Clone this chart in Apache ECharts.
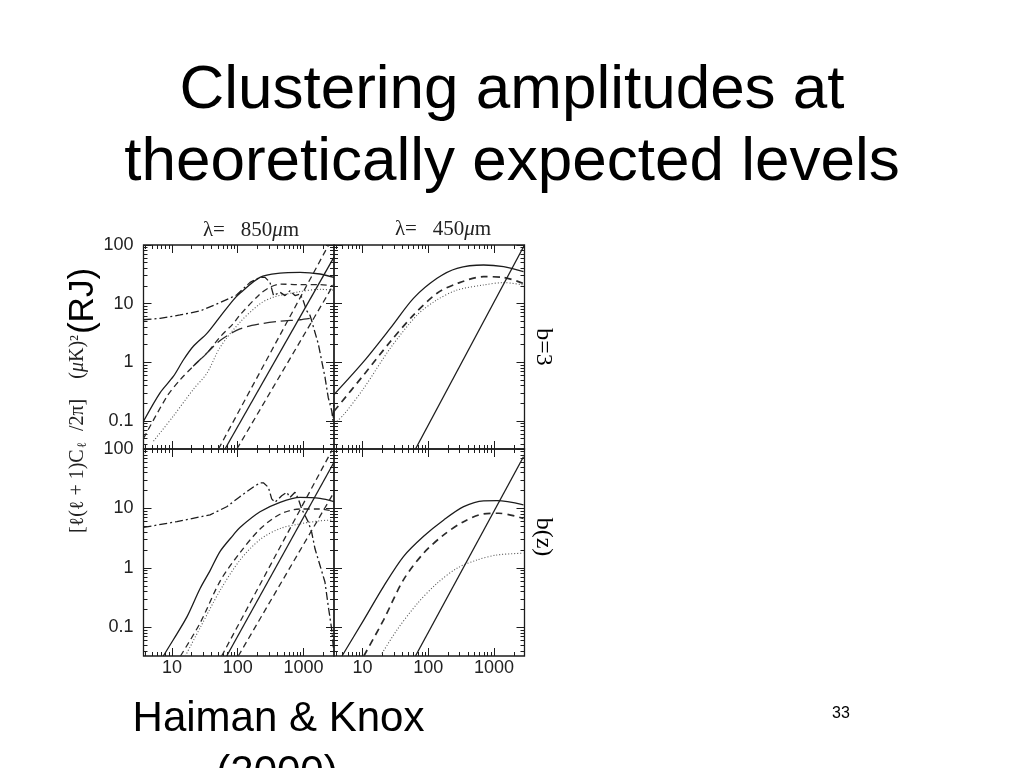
<!DOCTYPE html>
<html>
<head>
<meta charset="utf-8">
<script src="https://cdn.jsdelivr.net/npm/echarts@6.0.0/dist/echarts.min.js"></script>
<style>
  html, body { margin: 0; padding: 0; background: #fff; }
  #chart { width: 1024px; height: 768px; }
</style>
</head>
<body>
<div id="chart"></div>
<script>
  // axis ranges and ticks
  const XMIN = 3.7, XMAX = 2900, YMIN = 0.033, YMAX = 100;
  const xMajor = [10, 100, 1000];
  const xMinor = [4, 5, 6, 7, 8, 9, 20, 30, 40, 50, 60, 70, 80, 90, 200, 300, 400, 500, 600, 700, 800, 900, 2000];
  const yMajor = [0.1, 1, 10, 100];
  const yMinor = [0.04, 0.05, 0.06, 0.07, 0.08, 0.09, 0.2, 0.3, 0.4, 0.5, 0.6, 0.7, 0.8, 0.9,
    2, 3, 4, 5, 6, 7, 8, 9, 20, 30, 40, 50, 60, 70, 80, 90];

  // top left: 850um, b=3   [l, C]
  const tlSolid = [[3.7, 0.098], [6.6, 0.3], [10.5, 0.57], [15, 1.1], [21, 1.85], [34, 3.1], [54, 6.0], [86, 11.6], [108, 15], [218, 28], [439, 33], [883, 34], [1778, 32], [2900, 28]];
  const tlDashed = [[3.7, 0.05], [8.4, 0.26], [13.3, 0.5], [21, 0.85], [34, 1.43], [54, 2.7], [86, 4.6], [108, 6.4], [218, 14.6], [309, 19], [439, 21.5], [883, 21], [1778, 21], [2900, 20]];
  const tlDotted = [[5.25, 0.045], [10.5, 0.12], [21, 0.34], [34, 0.65], [54, 1.8], [108, 4.8], [218, 9.9], [350, 12.9], [883, 16], [1778, 17.5], [2900, 17]];
  const tlLong = [[21, 0.85], [34, 1.43], [54, 2.35], [108, 3.7], [218, 4.5], [439, 5.0], [883, 5.3], [1400, 5.7]];
  const tlDashDot = [[3.7, 5.3], [6.6, 5.6], [13.3, 6.4], [26.8, 7.5], [54, 10.4], [96, 14], [154, 23], [218, 28], [260, 28], [309, 23], [350, 13.7], [439, 15.6], [523, 13.7], [622, 16.6], [741, 13.7], [883, 14.6], [990, 11.2], [1110, 7.6], [1253, 6.3], [1330, 5.1], [1410, 4.0], [1675, 2.05], [1880, 1.07], [2113, 0.56], [2370, 0.25], [2670, 0.15], [2800, 0.1], [2900, 0.2]];
  const tlLineA = [[51, 0.033], [2400, 100]];
  const tlLineS = [[64, 0.033], [2900, 62]];
  const tlLineB = [[97, 0.033], [2900, 21.7]];

  // top right: 450um, b=3
  const trSolid = [[3.7, 0.28], [10.5, 1.03], [26.6, 3.8], [60, 12.4], [136, 27], [274, 40], [693, 45.6], [1396, 42.7], [2800, 35]];
  const trDashed = [[3.7, 0.145], [10.5, 0.61], [26.6, 2.25], [60, 6.4], [136, 15], [274, 22], [693, 28.8], [1396, 28], [2800, 22]];
  const trDotted = [[4.1, 0.098], [5.2, 0.127], [10.5, 0.36], [26.6, 1.74], [68, 6.4], [136, 11.6], [274, 17], [693, 20.8], [1396, 22.8], [2800, 20.8]];
  const trLine = [[64, 0.033], [2900, 100]];

  // bottom left: 850um, b(z)
  const blSolid = [[7.4, 0.033], [10.5, 0.062], [16.9, 0.15], [26.8, 0.45], [38, 0.9], [54, 1.9], [86, 3.6], [108, 4.8], [218, 8.8], [439, 12.7], [883, 15.4], [1778, 14.8], [2900, 13]];
  const blDashed = [[13.5, 0.033], [27, 0.12], [54, 0.6], [108, 1.8], [218, 4.5], [439, 8.0], [883, 9.8], [1778, 9.8], [2900, 9.0]];
  const blDotted = [[16, 0.033], [27, 0.1], [54, 0.42], [108, 1.35], [218, 3.0], [439, 4.6], [883, 5.5], [1778, 6.2], [2900, 6.4]];
  const blDashDot = [[3.7, 4.8], [11.9, 6.0], [38, 7.8], [68, 10.7], [108, 15.8], [173, 23], [218, 27], [245, 27], [292, 22.7], [328, 14.5], [368, 12.7], [465, 16.4], [555, 18.7], [622, 15.3], [741, 18.7], [832, 14.5], [937, 9.8], [1052, 7.6], [1181, 5.9], [1327, 4.0], [1492, 2.1], [1778, 1.1], [2113, 0.58], [2370, 0.23], [2670, 0.094], [2900, 0.035]];
  const blLineA = [[57, 0.033], [2700, 95]];
  const blLineS = [[68, 0.033], [2900, 60]];
  const blLineB = [[102, 0.033], [2900, 18.7]];

  // bottom right: 450um, b(z)
  const brSolid = [[4.9, 0.033], [10.5, 0.134], [21, 0.49], [42, 1.55], [85, 3.4], [172, 6.4], [345, 10.7], [693, 13.4], [1106, 13.5], [2800, 11.5]];
  const brDashed = [[10.5, 0.033], [21, 0.134], [42, 0.63], [85, 1.77], [172, 3.6], [345, 6.0], [693, 8.1], [1180, 8.3], [2800, 6.8]];
  const brDotted = [[18.8, 0.033], [33.6, 0.091], [68, 0.25], [136, 0.55], [274, 0.99], [550, 1.36], [1106, 1.65], [2800, 1.77]];
  const brLine = [[64, 0.033], [2800, 74]];

  const SANS = '"Liberation Sans", Arial, sans-serif';
  const SERIF = '"Liberation Serif", "DejaVu Serif", serif';
  const INK = '#1c1c1c';

  const grids = [
    { left: 143.5, top: 245, width: 190.5, height: 204 },
    { left: 334, top: 245, width: 190.5, height: 204 },
    { left: 143.5, top: 449, width: 190.5, height: 207 },
    { left: 334, top: 449, width: 190.5, height: 207 },
  ].map(g => Object.assign(g, { show: true, borderColor: INK, borderWidth: 1.3, backgroundColor: 'transparent' }));

  const fmt = v => String(+(+v).toPrecision(4));
  const tickLine = { color: INK, width: 1 };

  function axes(g, dir, showLabel) {
    const isX = dir === 'x';
    const base = {
      gridIndex: g, type: 'log', logBase: 10,
      min: isX ? XMIN : YMIN, max: isX ? XMAX : YMAX,
      splitLine: { show: false }, axisLine: { show: false, onZero: false },
    };
    const major = isX ? xMajor : yMajor;
    const minor = isX ? xMinor : yMinor;
    const sides = isX ? ['bottom', 'top'] : ['left', 'right'];
    const out = [];
    sides.forEach((pos, i) => {
      out.push(Object.assign({}, base, {
        position: pos,
        axisTick: { inside: true, length: 8, lineStyle: tickLine, customValues: major },
        axisLabel: {
          show: showLabel && i === 0, customValues: major, formatter: fmt,
          margin: isX ? 3 : 10, fontSize: 18, fontFamily: SANS, color: '#222',
        },
      }));
      out.push(Object.assign({}, base, {
        position: pos,
        axisTick: { inside: true, length: 4, lineStyle: tickLine, customValues: minor },
        axisLabel: { show: false },
      }));
    });
    return out;
  }

  const xAxis = [].concat(axes(0, 'x', false), axes(1, 'x', false), axes(2, 'x', true), axes(3, 'x', true));
  const yAxis = [].concat(axes(0, 'y', true), axes(1, 'y', false), axes(2, 'y', true), axes(3, 'y', false));

  const STY = {
    solid: { type: 'solid', width: 1.3, color: INK },
    dash: { type: [6, 4], width: 1.3, color: '#2a2a2a' },
    bold: { type: [7, 5], width: 1.7, color: '#2a2a2a' },
    dot: { type: [1, 2], width: 1.1, color: '#555' },
    long: { type: [12, 5], width: 1.3, color: '#2a2a2a' },
    dashdot: { type: [8, 3, 2, 3], width: 1.3, color: INK },
  };

  function line(g, data, sty, smooth) {
    return {
      type: 'line', xAxisIndex: g * 4, yAxisIndex: g * 4, data: data,
      showSymbol: false, symbol: 'none', smooth: smooth ? 0.3 : false,
      lineStyle: STY[sty], silent: true, animation: false, clip: true,
    };
  }

  const series = [
    line(0, tlSolid, 'solid', true), line(0, tlDashed, 'dash', true), line(0, tlDotted, 'dot', true),
    line(0, tlLong, 'long', true), line(0, tlDashDot, 'dashdot', false),
    line(0, tlLineA, 'dash'), line(0, tlLineS, 'solid'), line(0, tlLineB, 'dash'),
    line(1, trSolid, 'solid', true), line(1, trDashed, 'bold', true), line(1, trDotted, 'dot', true), line(1, trLine, 'solid'),
    line(2, blSolid, 'solid', true), line(2, blDashed, 'dash', true), line(2, blDotted, 'dot', true),
    line(2, blDashDot, 'dashdot', false),
    line(2, blLineA, 'dash'), line(2, blLineS, 'solid'), line(2, blLineB, 'dash'),
    line(3, brSolid, 'solid', true), line(3, brDashed, 'bold', true), line(3, brDotted, 'dot', true), line(3, brLine, 'solid'),
  ];

  function txt(x, y, text, size, family, extra) {
    return Object.assign({
      type: 'text', x: x, y: y, silent: true,
      style: { text: text, fontSize: size, fontFamily: family, fill: '#000', textAlign: 'center', textVerticalAlign: 'middle' },
    }, extra || {});
  }

  function lambdaTitle(x, y, num) {
    return txt(x, y, '', 21, SERIF, {
      style: {
        text: '{a|λ=   ' + num + '}{i|μ}{a|m}', fill: '#222', textAlign: 'center', textVerticalAlign: 'middle',
        rich: { a: { fontSize: 21, fontFamily: SERIF }, i: { fontSize: 21, fontFamily: SERIF, fontStyle: 'italic' } },
      },
    });
  }

  const graphic = [
    txt(512, 91, 'Clustering amplitudes at', 62, SANS),
    txt(512, 163, 'theoretically expected levels', 62, SANS),
    lambdaTitle(251, 230, '850'),
    lambdaTitle(443, 229, '450'),
    txt(543, 347, 'b=3', 24, SERIF, { rotation: -Math.PI / 2 }),
    txt(543, 537, 'b(z)', 24, SERIF, { rotation: -Math.PI / 2 }),
    txt(78, 434, '', 20, SERIF, {
      rotation: Math.PI / 2,
      style: {
        text: '{a|[ℓ(ℓ + 1)C}{s|ℓ}{a|  /2π]    (}{i|μ}{a|K)²}',
        textAlign: 'center', textVerticalAlign: 'middle', fill: '#222',
        rich: {
          a: { fontSize: 20, fontFamily: SERIF },
          i: { fontSize: 20, fontFamily: SERIF, fontStyle: 'italic' },
          s: { fontSize: 13, fontFamily: SERIF, padding: [9, 1, 0, 1] },
        },
      },
    }),
    txt(83, 301, '(RJ)', 35, SANS, { rotation: Math.PI / 2 }),
    txt(278.5, 719, 'Haiman & Knox', 42, SANS),
    txt(277, 773, '(2000)', 42, SANS),
    txt(841, 713.5, '33', 16, SANS),
  ];

  const chart = echarts.init(document.getElementById('chart'), null, { renderer: 'canvas' });
  chart.setOption({
    animation: false,
    backgroundColor: '#fff',
    grid: grids,
    xAxis: xAxis,
    yAxis: yAxis,
    series: series,
    graphic: graphic,
  });
</script>
</body>
</html>
